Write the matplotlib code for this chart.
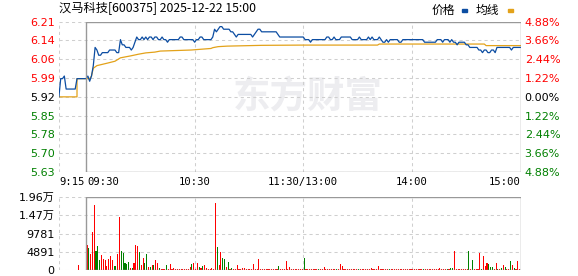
import numpy as np
import matplotlib.pyplot as plt
import matplotlib.transforms as mtransforms
from matplotlib.patches import Rectangle

plt.rcParams['font.family'] = ['Noto Sans CJK SC', 'DejaVu Sans']

title = "汉马科技[600375] 2025-12-22 15:00"
pre_close = 5.92
pct_levels = [4.88, 3.66, 2.44, 1.22, 0.00, -1.22, -2.44, -3.66, -4.88]
vol_max = 19562
vol_tick_labels = ["1.96万", "1.47万", "9781", "4891", "0"]
time_labels = ["9:15", "09:30", "10:30", "11:30/13:00", "14:00", "15:00"]

# call auction 9:15-9:29, one value per minute
auction_price = [5.92, 5.99, 5.99, 6.00, 5.95, 5.95, 5.95, 5.95, 5.95, 5.95,
                 5.99, 5.99, 5.99, 5.99, 5.99]
# 9:30-11:30 and 13:01-15:00, one value per minute
price = [
    5.99, 6.00, 5.98, 6.00, 6.04, 6.11, 6.10, 6.08, 6.08, 6.09,
    6.09, 6.09, 6.09, 6.10, 6.10, 6.10, 6.10, 6.09, 6.09, 6.14,
    6.12, 6.12, 6.11, 6.11, 6.11, 6.10, 6.11, 6.13, 6.15, 6.14,
    6.14, 6.15, 6.14, 6.15, 6.14, 6.15, 6.15, 6.14, 6.15, 6.15,
    6.14, 6.14, 6.15, 6.14, 6.14, 6.13, 6.14, 6.14, 6.14, 6.14,
    6.14, 6.14, 6.15, 6.15, 6.14, 6.14, 6.14, 6.14, 6.14, 6.14,
    6.13, 6.14, 6.14, 6.15, 6.15, 6.14, 6.14, 6.14, 6.14, 6.14,
    6.15, 6.18, 6.17, 6.18, 6.19, 6.19, 6.18, 6.18, 6.18, 6.18,
    6.17, 6.17, 6.16, 6.15, 6.16, 6.16, 6.16, 6.16, 6.16, 6.16,
    6.16, 6.16, 6.15, 6.16, 6.17, 6.18, 6.18, 6.17, 6.17, 6.17,
    6.17, 6.17, 6.17, 6.17, 6.17, 6.17, 6.16, 6.15, 6.15, 6.15,
    6.15, 6.15, 6.15, 6.15, 6.15, 6.15, 6.15, 6.15, 6.15, 6.15,
    6.15, 6.14, 6.14, 6.14, 6.13, 6.14, 6.14, 6.14, 6.14, 6.14,
    6.14, 6.14, 6.14, 6.15, 6.15, 6.14, 6.14, 6.15, 6.14, 6.14,
    6.14, 6.15, 6.15, 6.15, 6.15, 6.15, 6.15, 6.14, 6.14, 6.14,
    6.14, 6.15, 6.14, 6.14, 6.14, 6.14, 6.15, 6.14, 6.15, 6.14,
    6.14, 6.14, 6.15, 6.14, 6.13, 6.13, 6.14, 6.13, 6.14, 6.14,
    6.14, 6.14, 6.14, 6.13, 6.13, 6.14, 6.14, 6.14, 6.14, 6.14,
    6.14, 6.14, 6.14, 6.14, 6.14, 6.14, 6.14, 6.13, 6.13, 6.13,
    6.13, 6.13, 6.13, 6.13, 6.14, 6.14, 6.14, 6.13, 6.14, 6.14,
    6.14, 6.13, 6.14, 6.13, 6.13, 6.12, 6.13, 6.13, 6.13, 6.13,
    6.12, 6.12, 6.11, 6.11, 6.11, 6.11, 6.11, 6.10, 6.10, 6.09,
    6.10, 6.10, 6.09, 6.09, 6.10, 6.10, 6.09, 6.11, 6.11, 6.11,
    6.11, 6.11, 6.11, 6.11, 6.11, 6.10, 6.11, 6.11, 6.11, 6.11, 6.11,
]

avg_times = ["09:15", "09:25", "09:25", "09:32", "09:33", "09:34", "09:35", "09:36",
             "09:39", "09:42", "09:46", "09:49", "09:55", "09:59", "10:03", "10:08",
             "10:11", "10:28", "10:39", "10:40", "10:43", "10:48", "11:07", "11:30",
             "13:41", "13:42", "14:40", "14:41", "15:00"]
avg_price = [5.92, 5.92, 5.99, 5.99, 6.00, 6.03, 6.035, 6.04,
             6.045, 6.05, 6.057, 6.07, 6.078, 6.084, 6.089, 6.092,
             6.096, 6.10, 6.106, 6.109, 6.113, 6.115, 6.118, 6.119,
             6.119, 6.123, 6.123, 6.117, 6.117]

auction_volume = 1300
# 9:31-11:30 and 13:01-15:00
volume = [
    6600, 5800, 4300, 10300, 17300, 5200, 6300, 2700, 4000, 2900, 2700, 1200, 2900, 3800, 2700, 1100, 1100, 4300, 14300, 5100,
    4500, 1800, 1500, 2100, 600, 600, 2000, 6600, 6400, 4900, 1300, 3300, 1800, 4300, 900, 900, 1300, 1300, 2700, 1800,
    600, 400, 400, 300, 1300, 400, 1600, 400, 600, 300, 300, 200, 300, 300, 200, 300, 300, 800, 1500, 2000,
    400, 1800, 900, 600, 1000, 1300, 500, 400, 300, 600, 400, 18000, 6100, 1300, 4700, 3300, 3000, 800, 2200, 400,
    500, 400, 300, 1300, 400, 300, 500, 600, 300, 300, 300, 300, 1600, 300, 300, 2900, 300, 300, 200, 300,
    300, 200, 300, 300, 300, 300, 1050, 300, 300, 300, 2400, 300, 700, 300, 300, 300, 300, 300, 200, 300,
    3300, 300, 300, 300, 300, 200, 300, 300, 300, 300, 300, 700, 300, 300, 300, 300, 300, 300, 300, 300,
    1600, 1050, 400, 300, 300, 300, 300, 300, 200, 300, 300, 300, 300, 300, 300, 300, 300, 600, 300, 300,
    300, 1050, 300, 300, 300, 300, 300, 300, 300, 300, 300, 300, 300, 300, 300, 300, 300, 300, 300, 300,
    300, 300, 300, 300, 300, 300, 300, 300, 300, 300, 300, 300, 300, 300, 300, 600, 300, 300, 300, 300,
    300, 500, 500, 5100, 300, 300, 300, 300, 300, 300, 300, 5100, 300, 2650, 300, 300, 300, 4600, 300, 3800,
    1100, 1900, 1500, 900, 900, 300, 1900, 300, 300, 600, 1300, 700, 300, 300, 2400, 1300, 500, 300, 2400, 300,
]
# r = up minute, g = down minute
vol_dir = ("rgrrrgggrrrrrrrggrrg" "ggggrgrrrgrrggrgrgrr" "grrrgrrrrrrrrrrrrrgr"
           "rrgrgrrrrrrrgrrggrgr" "grrrrrrrrrrrrrrrrrrr" "rrrrrrgrrrrrrrrrrrrr"
           "grrrrrrrgrrrrrrrrrgr" "rrrrrrrrrrgrrrrrrrrr" "rrrrrrrgrrrrrrrrrrrr"
           "rrrrrrgrrrrrrrrrrrrg" "rggrrrrrrrrgrgrrrrgr" "rrgggrrgrgrgrrgrgrrr")

RED = "#FF0000"
GREEN = "#008000"
BLUE = "#0C4DA2"
GOLD = "#E3A21A"
GRID = "#CFCFCF"
FRAME = "#999999"


def tpos(t):
    h, m = map(int, t.split(":"))
    mins = h * 60 + m
    if mins <= 9 * 60 + 30:
        return mins - (9 * 60 + 15)
    if mins <= 11 * 60 + 30:
        return 15 + mins - (9 * 60 + 30)
    return 135 + mins - 13 * 60


fig = plt.figure(figsize=(5.78, 2.76), dpi=100)
W, H = 578, 276
x0, x1 = 58.9, 520.5
ax = fig.add_axes([x0 / W, 1 - 172 / H, (x1 - x0) / W, 150.3 / H])
axv = fig.add_axes([x0 / W, 1 - 270 / H, (x1 - x0) / W, 73 / H])

levels = [pre_close * (1 + p / 100) for p in pct_levels]
lo, hi = levels[-1], levels[0]
dash = dict(color=GRID, lw=0.75, ls=(0, (3, 3)), zorder=1)

for a, ymin, ymax, hlines in [(ax, lo, hi, levels),
                              (axv, 0, vol_max, [vol_max * k / 4 for k in range(5)])]:
    a.set_xlim(0, 255)
    a.set_ylim(ymin, ymax)
    for s in a.spines.values():
        s.set_visible(False)
    a.set_xticks([])
    for y in hlines:
        a.plot([0, 255], [y, y], **dash)
    for t in ["10:30", "11:30", "14:00"]:
        a.plot([tpos(t)] * 2, [ymin, ymax], **dash)
    a.plot([0, 0], [ymin, ymax], **dash)
    # solid frame of the continuous session
    a.plot([15, 255, 255, 15, 15], [ymin, ymin, ymax, ymax, ymin],
           color=FRAME, lw=1.0, zorder=4, solid_joinstyle='miter')

# watermark
ax.text(0.54, 0.5, "东方财富", transform=ax.transAxes, ha='center', va='center',
        fontsize=27, fontweight='bold', color="#EDEDF0", zorder=0)

# price and average lines
px = np.arange(len(auction_price) + len(price))
ax.plot(px, auction_price + price, color=BLUE, lw=0.9, zorder=3)
ax.plot([tpos(t) for t in avg_times], avg_price, color=GOLD, lw=0.9, zorder=2)

# left price labels and right percent labels
ax.set_yticks(levels)
ax.set_yticklabels([f"{v:.2f}" for v in levels])
ax.tick_params(axis='y', length=0, pad=3, labelsize=8)
for lab, p in zip(ax.get_yticklabels(), pct_levels):
    lab.set_fontfamily('DejaVu Sans')
    lab.set_color(RED if p > 0 else GREEN if p < 0 else "black")
ax2 = ax.twinx()
ax2.set_ylim(lo, hi)
for s in ax2.spines.values():
    s.set_visible(False)
ax2.set_yticks(levels)
ax2.set_yticklabels([f"{abs(p):.2f}%" for p in pct_levels])
ax2.tick_params(axis='y', length=0, pad=3, labelsize=8)
for lab, p in zip(ax2.get_yticklabels(), pct_levels):
    lab.set_fontfamily('DejaVu Sans')
    lab.set_color(RED if p > 0 else GREEN if p < 0 else "black")

# time labels
tb = mtransforms.blended_transform_factory(ax.transData, ax.transAxes)
tkw = dict(transform=tb, va='center', fontsize=7.6, family='DejaVu Sans Mono')
ax.text(tpos("09:15"), -0.068, time_labels[0], ha='left', **tkw)
ax.text(tpos("09:30") + 0.6, -0.068, time_labels[1], ha='left', **tkw)
ax.text(tpos("10:30"), -0.068, time_labels[2], ha='center', **tkw)
ax.text(tpos("11:30"), -0.068, time_labels[3], ha='center', **tkw)
ax.text(tpos("14:00"), -0.068, time_labels[4], ha='center', **tkw)
ax.text(tpos("15:00"), -0.068, time_labels[5], ha='right', **tkw)

# volume bars
cols = [RED if c == "r" else GREEN for c in vol_dir]
axv.bar([tpos("09:25") + 0.6], [auction_volume], width=0.6, color=RED,
        linewidth=0, zorder=3, antialiased=False)
axv.bar(15.5 + np.arange(len(volume)), volume, width=0.6, color=cols,
        linewidth=0, zorder=3, antialiased=False)
axv.set_yticks([vol_max * k / 4 for k in range(4, -1, -1)])
axv.set_yticklabels(vol_tick_labels)
axv.tick_params(axis='y', length=0, pad=3, labelsize=8)
for lab in axv.get_yticklabels():
    lab.set_fontfamily(['DejaVu Sans', 'Noto Sans CJK SC'])

# title and legend
fig.text(x0 / W, 1 - 9 / H, title, ha='left', va='center', fontsize=8.8)
fig.text(432 / W, 1 - 10 / H, "价格", ha='left', va='center', fontsize=8.5)
fig.text(476 / W, 1 - 10 / H, "均线", ha='left', va='center', fontsize=8.5)
fig.add_artist(Rectangle((462 / W, 1 - 12 / H), 5 / W, 3 / H,
                         transform=fig.transFigure, color=BLUE))
fig.add_artist(Rectangle((508 / W, 1 - 12 / H), 5 / W, 3 / H,
                         transform=fig.transFigure, color=GOLD))

fig.savefig("out.png", dpi=100)
